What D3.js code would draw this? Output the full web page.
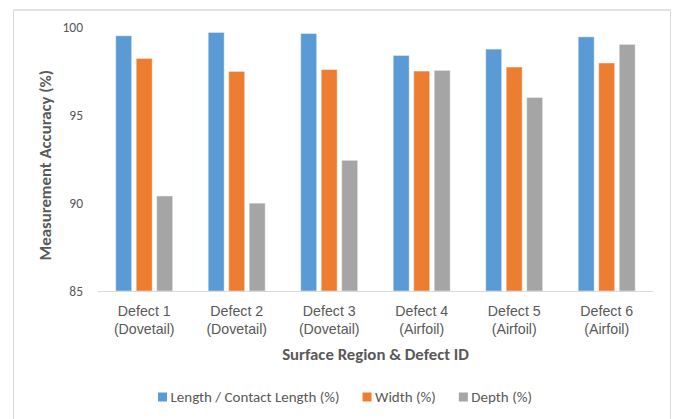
<!DOCTYPE html>
<html>
<head>
<meta charset="utf-8">
<script src="https://cdn.jsdelivr.net/npm/d3@7"></script>
<style>
  html, body { margin: 0; padding: 0; background: #fff; }
  svg { display: block; font-family: Carlito, Calibri, Lato, "Open Sans", sans-serif; }
</style>
</head>
<body>
<svg id="chart" width="675" height="419"></svg>
<script>
// Categories (two-line labels)
const defects = ["Defect 1", "Defect 2", "Defect 3", "Defect 4", "Defect 5", "Defect 6"];
const regions = ["(Dovetail)", "(Dovetail)", "(Dovetail)", "(Airfoil)", "(Airfoil)", "(Airfoil)"];

// Series
const seriesNames = ["Length / Contact Length (%)", "Width (%)", "Depth (%)"];
const lengthAcc = [99.53, 99.72, 99.66, 98.41, 98.77, 99.47];
const widthAcc  = [98.24, 97.50, 97.61, 97.52, 97.75, 97.98];
const depthAcc  = [90.41, 90.00, 92.44, 97.56, 96.02, 99.04];
const yTicks = [85, 90, 95, 100];

const colors = ["#5B9BD5", "#ED7D31", "#A5A5A5"];
const series = [lengthAcc, widthAcc, depthAcc];

const svg = d3.select("#chart");

// outer chart frame
svg.append("rect")
  .attr("x", 13.5).attr("y", 10).attr("width", 657).attr("height", 420)
  .attr("fill", "#fff").attr("stroke", "#d9d9d9").attr("stroke-width", 1);
svg.append("line")
  .attr("x1", 13).attr("x2", 671).attr("y1", 10).attr("y2", 10)
  .attr("stroke", "#e3e3e3").attr("stroke-width", 2);

const plot = { left: 98, right: 653, top: 27.5, bottom: 291 };

const x = d3.scaleBand().domain(defects).range([plot.left, plot.right]).paddingInner(0).paddingOuter(0);
const xs = d3.scaleBand().domain(d3.range(3)).range([17.7, 74.7]).paddingInner(0.22).paddingOuter(0);
const y = d3.scaleLinear().domain([85, 100]).range([plot.bottom, plot.top]);

// bars
series.forEach((vals, si) => {
  svg.append("g").selectAll("rect")
    .data(vals)
    .join("rect")
    .attr("x", (d, i) => x(defects[i]) + xs(si))
    .attr("y", d => y(d))
    .attr("width", xs.bandwidth())
    .attr("height", d => y(85) - y(d))
    .attr("fill", colors[si])
    .attr("stroke", "#ffffff")
    .attr("stroke-opacity", 0.45)
    .attr("stroke-width", 1);
});

// x baseline
svg.append("line")
  .attr("x1", plot.left).attr("x2", plot.right)
  .attr("y1", plot.bottom + 0.5).attr("y2", plot.bottom + 0.5)
  .attr("stroke", "#d9d9d9").attr("stroke-width", 1);

// y tick labels
const yAxis = d3.axisLeft(y).tickValues(yTicks).tickSize(0).tickPadding(0);
const gy = svg.append("g").attr("transform", `translate(83,0)`).call(yAxis);
gy.select(".domain").remove();
gy.selectAll("text")
  .attr("fill", "#595959").attr("font-size", 13.5)
  .attr("font-family", "Carlito, Calibri, Lato, sans-serif");

// x category labels
const xAxis = d3.axisBottom(x).tickSize(0).tickFormat(() => "");
const gx = svg.append("g").attr("transform", `translate(0,${plot.bottom})`).call(xAxis);
gx.select(".domain").remove();
gx.selectAll(".tick").each(function(d, i) {
  const t = d3.select(this).append("text")
    .attr("fill", "#595959").attr("font-size", 14.2)
    .attr("text-anchor", "middle");
  t.append("tspan").attr("x", 0).attr("y", 24.5).text(defects[i]);
  t.append("tspan").attr("x", 0).attr("y", 42.5).text(regions[i]);
});

// axis titles
svg.append("text")
  .attr("x", 375.5).attr("y", 360)
  .attr("text-anchor", "middle").attr("font-size", 16.8).attr("font-weight", "bold")
  .attr("fill", "#595959").text("Surface Region & Defect ID");

svg.append("text")
  .attr("transform", `translate(51,${(plot.top + plot.bottom) / 2 + 6}) rotate(-90)`)
  .attr("text-anchor", "middle").attr("font-size", 16.8).attr("font-weight", "bold")
  .attr("fill", "#595959").text("Measurement Accuracy (%)");

// legend
const legend = svg.append("g").attr("transform", "translate(0,397)");
const items = legend.selectAll("g").data(seriesNames).join("g");
items.append("rect").attr("width", 9).attr("height", 9).attr("y", -4.5)
  .attr("fill", (d, i) => colors[i]);
items.append("text").attr("x", 12.5).attr("y", 0).attr("dy", "0.36em")
  .attr("font-size", 15).attr("fill", "#595959").text(d => d);
const widths = [];
items.each(function() { widths.push(this.getBBox().width); });
const gap = 23;
const total = d3.sum(widths) + gap * (widths.length - 1);
let cx = 345 - total / 2;
items.attr("transform", (d, i) => {
  const tx = cx; cx += widths[i] + gap; return `translate(${tx},0)`;
});
</script>
</body>
</html>
